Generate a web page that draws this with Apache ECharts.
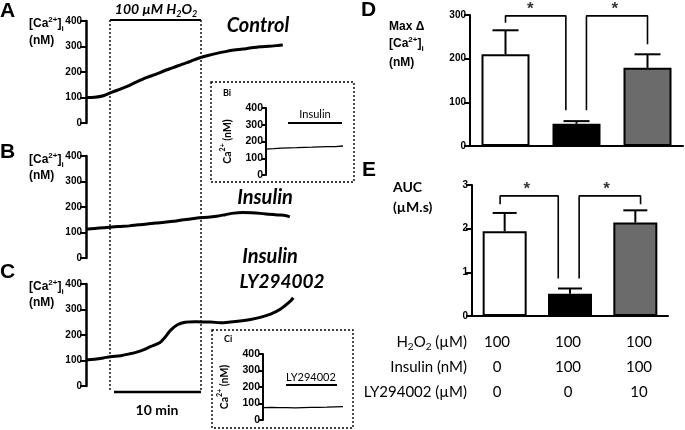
<!DOCTYPE html>
<html>
<head>
<meta charset="utf-8">
<script src="https://cdn.jsdelivr.net/npm/echarts@6/dist/echarts.min.js"></script>
<style>
  html, body { margin: 0; padding: 0; background: #fff; }
  #show { width: 685px; height: 430px; }
</style>
</head>
<body>
<div id="show"></div>
<script>
// ---- traces (time in min, [Ca2+]i in nM) ----
var timeCtrl = [0, 1, 2, 3, 4, 5, 6, 7, 8, 9, 10, 11, 12, 13, 14, 15, 16, 17, 18, 19, 20, 21, 22, 22.6];
var caCtrl = [100, 101, 107, 121, 134, 148, 164, 179, 191, 205, 217, 230, 242, 255, 265, 273, 280, 286, 290, 295, 299, 301, 304, 306];
var timeIns = [0, 1, 2, 3, 4, 5, 6, 7, 8, 9, 10, 11, 12, 13, 14, 15, 16, 17, 18, 19, 20, 21, 22, 23, 23.4];
var caIns = [113, 116, 119, 122, 124, 126, 130, 133, 137, 140, 144, 149, 153, 158, 160, 164, 170, 176, 178, 177, 175, 172, 169, 166, 161];
var timeLy = [0, 1, 2, 2.8, 4, 5, 6.2, 7.4, 8.5, 9.1, 9.7, 10.5, 11.4, 12.5, 13.2, 14.3, 15.4, 16.6, 17.7, 18.9, 20, 21.2, 22.3, 23.5, 23.8];
var caLy = [102, 105, 110, 115, 119, 126, 137, 154, 171, 192, 218, 240, 250, 252, 251, 251, 248, 251, 255, 261, 269, 282, 301, 334, 346];
// insets Bi / Ci
var timeInset = [0, 1, 2, 3, 4, 5, 6, 7, 8, 9, 10];
var caBi = [155, 157, 160, 162, 163, 165, 166, 168, 169, 170, 173];
var caCi = [75, 76, 75, 75, 74, 75, 76, 77, 78, 80, 81];

// ---- bar panels ----
var groups = ['Control', 'Insulin', 'Insulin+LY294002'];
var barColors = ['#ffffff', '#000000', '#6b6b6b'];
var maxDelta = [210, 51, 179];
var maxDeltaErr = [265, 57, 210];
var auc = [1.94, 0.51, 2.14];
var aucErr = [2.36, 0.63, 2.42];
// significance brackets, x in category units (0..3)
var bracketsD = [[[0.5, 282], [0.5, 298], [1.35, 298], [1.35, 82]],
                 [[1.64, 82], [1.64, 298], [2.5, 298], [2.5, 233]]];
var starsD = [[0.85, 298], [2.04, 298]];
var bracketsE = [[[0.43, 2.56], [0.43, 2.75], [1.32, 2.75], [1.32, 0.86]],
                 [[1.64, 0.86], [1.64, 2.75], [2.58, 2.75], [2.58, 2.56]]];
var starsE = [[0.84, 2.75], [2.06, 2.75]];

// treatment table
var tableRows = ['{n|H}{s|2}{n|O}{s|2}{n| (µM)}', '{n|Insulin (nM)}', '{n|LY294002 (µM)}'];
var tableVals = [['100', '100', '100'], ['0', '100', '100'], ['0', '0', '10']];

var myChart = echarts.init(document.getElementById('show'));

var tickLbl = { fontFamily: 'Liberation Sans', fontWeight: 'bold', fontSize: 10, color: '#000', margin: 4 };

function traceY(gi, max, interval, lbl, lw) {
    return {
        gridIndex: gi, type: 'value', min: 0, max: max, interval: interval,
        splitLine: { show: false },
        axisLine: { show: true, lineStyle: { color: '#000', width: lw } },
        axisTick: { show: true, length: 6, lineStyle: { color: '#000', width: 2 } },
        axisLabel: lbl
    };
}
function hiddenX(gi, max) {
    return { gridIndex: gi, type: 'value', min: 0, max: max, show: false };
}
function pairs(xs, ys) {
    return xs.map(function (t, i) { return [t, ys[i]]; });
}
function errRender(half) {
    return function (params, api) {
        var base = api.coord([api.value(0), api.value(1)]);
        var top = api.coord([api.value(0), api.value(2)]);
        return {
            type: 'group',
            children: [
                { type: 'line', shape: { x1: base[0], y1: base[1], x2: top[0], y2: top[1] }, style: { stroke: '#000', lineWidth: 2 } },
                { type: 'line', shape: { x1: top[0] - half, y1: top[1], x2: top[0] + half, y2: top[1] }, style: { stroke: '#000', lineWidth: 2 } }
            ]
        };
    };
}

var insetLbl = Object.assign({}, tickLbl, { fontSize: 10.5, margin: 3 });
var insetY = function (gi) {
    var a = traceY(gi, 400, 100, insetLbl, 2);
    a.axisTick.length = 4;
    a.name = '{n|Ca}{sup|2+}{n| (nM)}';
    a.nameLocation = 'middle';
    a.nameRotate = 90;
    a.nameGap = 33;
    a.nameTextStyle = {
        color: '#000',
        rich: {
            n: { fontFamily: 'Lato', fontSize: 10.5, fontWeight: 'bold', color: '#000', lineHeight: 14, verticalAlign: 'bottom' },
            sup: { fontFamily: 'Lato', fontSize: 7, fontWeight: 'bold', color: '#000', lineHeight: 14, verticalAlign: 'top' }
        }
    };
    return a;
};

var series = [];
[[timeCtrl, caCtrl], [timeIns, caIns], [timeLy, caLy]].forEach(function (d, i) {
    series.push({
        type: 'line', xAxisIndex: i, yAxisIndex: i, data: pairs(d[0], d[1]),
        symbol: 'none', smooth: 0.3, lineStyle: { color: '#000', width: 3 }, z: 5
    });
});
series.push({ type: 'line', xAxisIndex: 3, yAxisIndex: 3, data: pairs(timeInset, caBi),
    symbol: 'none', lineStyle: { color: '#000', width: 1.3 } });
series.push({ type: 'line', xAxisIndex: 4, yAxisIndex: 4, data: pairs(timeInset, caCi),
    symbol: 'none', lineStyle: { color: '#000', width: 1.3 } });

function barSet(xi, yi, xv, vals, errs, bw, half, brackets, stars) {
    series.push({
        type: 'bar', xAxisIndex: xi, yAxisIndex: yi, barWidth: bw,
        data: vals.map(function (v, i) {
            return { value: v, itemStyle: { color: barColors[i], borderColor: '#000', borderWidth: 2 } };
        })
    });
    series.push({
        type: 'custom', xAxisIndex: xi, yAxisIndex: yi, renderItem: errRender(half), z: 4,
        data: vals.map(function (v, i) { return [i, v, errs[i]]; })
    });
    brackets.forEach(function (b) {
        series.push({ type: 'line', xAxisIndex: xv, yAxisIndex: yi, data: b, symbol: 'none',
            lineStyle: { color: '#000', width: 1.6 }, clip: false });
    });
    series.push({
        type: 'scatter', xAxisIndex: xv, yAxisIndex: yi, data: stars, symbolSize: 0, clip: false,
        label: { show: true, position: 'top', distance: -2, formatter: '*',
            fontFamily: 'Liberation Sans', fontWeight: 'bold', fontSize: 17, color: '#000' }
    });
}
barSet(5, 5, 7, maxDelta, maxDeltaErr, 48, 13, bracketsD, starsD);
barSet(6, 6, 8, auc, aucErr, 44, 12, bracketsE, starsE);

function catX(gi) {
    return {
        gridIndex: gi, type: 'category', data: groups,
        axisLine: { lineStyle: { color: '#000', width: 2 } },
        axisTick: { alignWithLabel: true, length: 5, lineStyle: { color: '#000', width: 1.5 } },
        axisLabel: { show: false }
    };
}

// text helpers: every run of text goes through explicit rich tokens
function richOf(fam, size, weight, italic, lh) {
    var base = { fontFamily: fam, fontSize: size, fontWeight: weight, fontStyle: italic ? 'italic' : 'normal', fill: '#000', lineHeight: lh };
    return {
        n: Object.assign({}, base),
        sup: Object.assign({}, base, { fontSize: Math.round(size * 0.65), verticalAlign: 'top' }),
        s: Object.assign({}, base, { fontSize: Math.round(size * 0.65), verticalAlign: 'bottom' })
    };
}
function txt(x, y, text, rich, align) {
    return { type: 'text', z: 10, style: {
        x: x, y: y, text: text, rich: rich, fill: '#000',
        textAlign: align || 'left', textVerticalAlign: 'middle'
    } };
}
var rLetter = richOf('Liberation Sans', 21, 'bold', false, 24);
var rUnit = richOf('Liberation Sans', 12, 'bold', false, 17);
var rTitle = richOf('Lato', 20, 'bold', true, 24);
var rTitleS = richOf('Lato', 19, 'bold', true, 24);
var rH2O2 = richOf('Lato', 14, 'bold', true, 19);
var rTab = richOf('Lato', 15, 'normal', false, 20);
var rMin = richOf('Lato', 14, 'bold', false, 18);
var rSmall = richOf('Lato', 11, 'normal', false, 14);
var rTiny = richOf('Lato', 9, 'bold', false, 12);
var rAuc = richOf('Lato', 14, 'bold', false, 18);
var dash = { stroke: '#000', lineWidth: 1.4, lineDash: [2, 2], fill: null };
var caLbl = '{n|[Ca}{sup|2+}{n|]}{s|i}';

var graphics = [
    // stimulation window
    { type: 'line', shape: { x1: 110, y1: 20, x2: 110, y2: 392 }, style: dash },
    { type: 'line', shape: { x1: 201, y1: 20, x2: 201, y2: 392 }, style: dash },
    { type: 'line', shape: { x1: 110, y1: 20, x2: 201, y2: 20 }, style: { stroke: '#000', lineWidth: 2 } },
    { type: 'line', shape: { x1: 114, y1: 392, x2: 201, y2: 392 }, style: { stroke: '#000', lineWidth: 2.5 } },
    txt(156, 9, '{n|100 µM H}{s|2}{n|O}{s|2}', rH2O2, 'center'),
    txt(157, 410, '{n|10 min}', rMin, 'center'),
    // inset boxes
    { type: 'rect', shape: { x: 211, y: 82, width: 143, height: 100 }, style: dash },
    { type: 'rect', shape: { x: 212, y: 330, width: 141, height: 98 }, style: dash },
    txt(223, 93, '{n|Bi}', rTiny),
    txt(224, 339, '{n|Ci}', rTiny),
    { type: 'line', shape: { x1: 288, y1: 123, x2: 342, y2: 123 }, style: { stroke: '#000', lineWidth: 2 } },
    txt(315, 114, '{n|Insulin}', rSmall, 'center'),
    { type: 'line', shape: { x1: 286, y1: 385, x2: 337, y2: 385 }, style: { stroke: '#000', lineWidth: 2 } },
    txt(311, 377, '{n|LY294002}', rSmall, 'center'),
    // panel letters
    txt(0, 11, '{n|A}', rLetter), txt(0, 152, '{n|B}', rLetter), txt(0, 272, '{n|C}', rLetter),
    txt(361, 10, '{n|D}', rLetter), txt(362, 170, '{n|E}', rLetter),
    // y labels for traces
    txt(29, 24, caLbl, rUnit), txt(29, 41, '{n|(nM)}', rUnit),
    txt(29, 160, caLbl, rUnit), txt(29, 176, '{n|(nM)}', rUnit),
    txt(29, 287, caLbl, rUnit), txt(29, 303, '{n|(nM)}', rUnit),
    // trace titles
    txt(258, 26, '{n|Control}', rTitle, 'center'),
    txt(265, 198, '{n|Insulin}', rTitle, 'center'),
    txt(270, 257, '{n|Insulin}', rTitle, 'center'),
    txt(282, 282, '{n|LY294002}', rTitleS, 'center'),
    // bar panel y labels
    txt(389, 27, '{n|Max Δ}', rUnit), txt(389, 44, caLbl, rUnit), txt(389, 63, '{n|(nM)}', rUnit),
    txt(393, 187, '{n|AUC}', rAuc),
    txt(393, 207, '{n|(µM.s)}', rAuc)
];
var colX = [497, 568, 639];
var rowY = [342, 367, 392];
tableRows.forEach(function (r, i) {
    graphics.push(txt(467, rowY[i], r, rTab, 'right'));
    tableVals[i].forEach(function (v, j) {
        graphics.push(txt(colX[j], rowY[i], '{n|' + v + '}', rTab, 'center'));
    });
});

var option = {
    animation: false,
    backgroundColor: '#fff',
    grid: [
        { left: 86, top: 21, width: 209, height: 102 },
        { left: 86, top: 156, width: 209, height: 102 },
        { left: 86, top: 284, width: 209, height: 102 },
        { left: 266, top: 108, width: 77, height: 67 },
        { left: 263, top: 354, width: 80, height: 66 },
        { left: 470, top: 15, width: 213, height: 131 },
        { left: 472, top: 185, width: 196, height: 131 }
    ],
    xAxis: [
        hiddenX(0, 24), hiddenX(1, 24), hiddenX(2, 24), hiddenX(3, 10), hiddenX(4, 10),
        catX(5), catX(6), hiddenX(5, 3), hiddenX(6, 3)
    ],
    yAxis: [
        traceY(0, 400, 100, tickLbl, 2.5), traceY(1, 400, 100, tickLbl, 2.5), traceY(2, 400, 100, tickLbl, 2.5),
        insetY(3), insetY(4),
        traceY(5, 300, 100, tickLbl, 2), traceY(6, 3, 1, tickLbl, 2)
    ],
    series: series,
    graphic: graphics
};
myChart.setOption(option);
</script>
</body>
</html>
